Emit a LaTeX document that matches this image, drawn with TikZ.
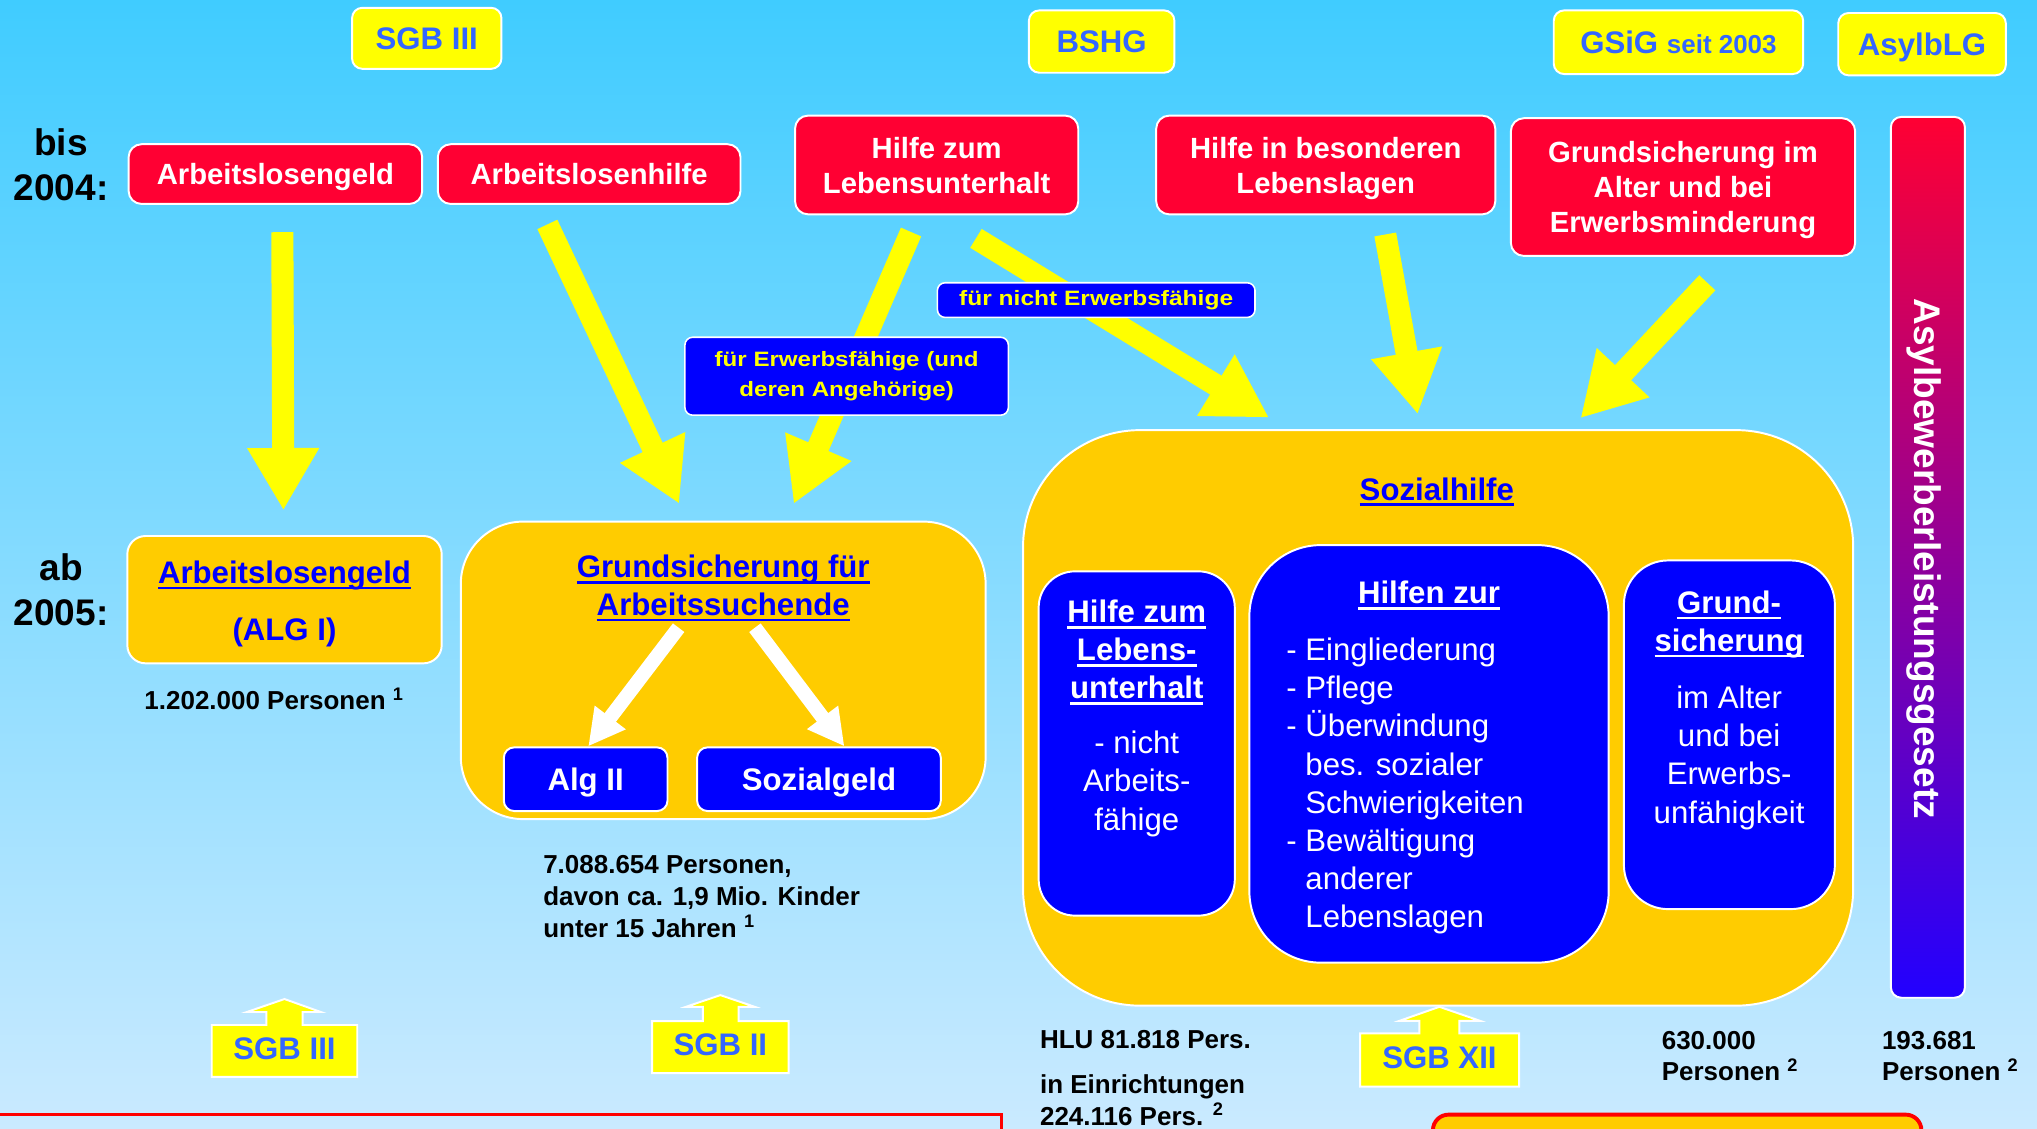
\documentclass[tikz,border=0pt]{standalone}
\usepackage{fontspec}
\setmainfont{Liberation Sans}
\usepackage{graphicx}
\usepackage{xcolor}
\usetikzlibrary{arrows.meta}

\definecolor{skytop}{HTML}{40CCFF}
\definecolor{skybottom}{HTML}{CAEAFF}
\definecolor{oldred}{HTML}{FF0033}
\definecolor{lawyellow}{HTML}{FFFF00}
\definecolor{lawblue}{HTML}{3366FF}
\definecolor{neworange}{HTML}{FFCC00}
\definecolor{subblue}{HTML}{0000FF}
\definecolor{barblue}{HTML}{2200FF}
\definecolor{framered}{HTML}{FF0000}

\newsavebox{\ulsave}
\newcommand{\ulbox}[1]{\sbox{\ulsave}{#1}\rlap{\rule[-4.5pt]{\wd\ulsave}{2pt}}\usebox{\ulsave}}
\newcommand{\ind}{\hphantom{- }}

\tikzset{
	every node/.style={inner sep=0pt},
	lawbox/.style={draw=white, line width=1.5pt, fill=lawyellow, rounded corners=8pt, text=lawblue, text depth=0pt, font=\bfseries\fontsize{24}{28}\selectfont},
	lawtext/.style={text=lawblue, font=\bfseries\fontsize{24}{28}\selectfont},
	lawcallout/.style={draw=white, line width=1.5pt, fill=lawyellow},
	oldbox/.style={draw=white, line width=1.5pt, fill=oldred, rounded corners=10pt, text=white, text depth=0pt, align=center, font=\bfseries\fontsize{22.5}{27}\selectfont},
	newbox/.style={draw=white, line width=1.5pt, fill=neworange},
	newhead/.style={text=subblue, align=center, anchor=base, font=\bfseries\fontsize{24}{29}\selectfont},
	subbox/.style={draw=white, line width=1.5pt, fill=subblue, text=white, text depth=0pt, font=\bfseries\fontsize{24}{29}\selectfont},
	subhead/.style={text=white, align=center, anchor=base, font=\bfseries\fontsize{24}{29.3}\selectfont},
	subtext/.style={text=white, font=\fontsize{24}{29.4}\selectfont},
	notebox/.style={draw=white, line width=1.2pt, fill=subblue, rounded corners=6pt, text=lawyellow, align=center, font=\bfseries\fontsize{16}{23}\selectfont},
	asylbar/.style={draw=white, line width=1.5pt, rounded corners=8pt, top color=oldred, bottom color=barblue},
	period/.style={align=center, anchor=base, font=\bfseries\fontsize{28.5}{34.5}\selectfont},
	persons/.style={align=left, anchor=base west, font=\bfseries\fontsize{20}{24.5}\selectfont},
	transfer/.style={draw=lawyellow, line width=17pt, -{Triangle[width=52pt,length=48pt]}},
	splitarrow/.style={draw=white, line width=11pt, -{Triangle[width=28pt,length=28pt]}}
}

\begin{document}
\begin{tikzpicture}[x=1pt, y=-1pt]
	\useasboundingbox (0,0) rectangle (1568,869);
	\clip (0,0) rectangle (1568,869);
	\shade[top color=skytop, bottom color=skybottom] (0,0) rectangle (1568,869);

	% laws
	\node[lawbox, minimum width=115pt, minimum height=47pt] (sgbiii) at (328.5,29.5) {SGB III};
	\node[lawbox, minimum width=112pt, minimum height=48pt] (bshg) at (848,32) {BSHG};
	\node[lawbox, minimum width=192pt, minimum height=49pt] (gsig) at (1292,32.5) {GSiG {\fontsize{20}{24}\selectfont seit 2003}};
	\node[lawbox, minimum width=129pt, minimum height=48pt] (asylblg) at (1479.5,34) {AsylbLG};

	\node[period] (bis) at (47,154) {bis\\2004:};
	\node[period] (ab) at (47,481.4) {ab\\2005:};

	% until 2004
	\node[oldbox, minimum width=226pt, minimum height=46pt] (alg) at (212,134) {Arbeitslosengeld};
	\node[oldbox, minimum width=233pt, minimum height=46pt] (alhi) at (453.5,134) {Arbeitslosenhilfe};
	\node[oldbox, minimum width=218pt, minimum height=76pt] (hlu) at (721,127) {Hilfe zum\\Lebensunterhalt};
	\node[oldbox, minimum width=261pt, minimum height=76pt] (hbl) at (1020.5,127) {Hilfe in besonderen\\Lebenslagen};
	\node[oldbox, minimum width=265pt, minimum height=106pt] (gsi) at (1295.5,144) {Grundsicherung im\\Alter und bei\\Erwerbsminderung};

	\node[asylbar, minimum width=57pt, minimum height=678pt] (asylbar) at (1484,429) {};
	\node[rotate=-90, text=white, font=\bfseries\fontsize{28.5}{30}\selectfont] (asyl) at (1481,430) {Asylbewerberleistungsgesetz};

	% from 2005
	\node[newbox, rounded corners=14pt, minimum width=242pt, minimum height=98pt] (algI) at (219,461.6) {};
	\node[newhead, font=\bfseries\fontsize{24}{43.7}\selectfont] (algItext) at (219,492.7) {\ulbox{Arbeitslosengeld}\\(ALG I)};

	\node[newbox, rounded corners=48pt, minimum width=404pt, minimum height=229pt] (gsa) at (556.7,516) {};
	\node[newhead] (gsatitle) at (556.7,473.7) {\ulbox{Grundsicherung für}\\\ulbox{Arbeitssuchende}};
	\node[subbox, rounded corners=8pt, minimum width=126pt, minimum height=49pt] (algii) at (450.8,599.8) {Alg II};
	\node[subbox, rounded corners=8pt, minimum width=187.6pt, minimum height=49pt] (sozg) at (630.4,599.8) {Sozialgeld};

	\node[newbox, rounded corners=90pt, minimum width=639pt, minimum height=443pt] (soz) at (1107,552.6) {};
	\node[newhead] (soztitle) at (1106,385) {\ulbox{Sozialhilfe}};
	\node[subbox, rounded corners=28pt, minimum width=151pt, minimum height=265pt] (hlub) at (875,572.3) {};
	\node[subhead] (hlutitle) at (875,538) {\ulbox{Hilfe zum}\\\ulbox{Lebens-}\\\ulbox{unterhalt}};
	\node[subtext, align=center, anchor=base] (hlutext) at (875,639) {- nicht\\Arbeits-\\fähige};
	\node[subbox, rounded corners=55pt, minimum width=276.6pt, minimum height=321.4pt] (hzb) at (1100,580.3) {};
	\node[subhead] (hztitle) at (1100,464.7) {\ulbox{Hilfen zur}};
	\node[subtext, align=left, anchor=base west] (hztext) at (990,714.2) {- Eingliederung\\- Pflege\\- Überwindung\\\ind bes. sozialer\\\ind Schwierigkeiten\\- Bewältigung\\\ind anderer\\\ind Lebenslagen};
	\node[subbox, rounded corners=34pt, minimum width=162.4pt, minimum height=268.4pt] (gsb) at (1331.2,565.6) {};
	\node[subhead] (gsbtitle) at (1331,501.5) {\ulbox{Grund-}\\\ulbox{sicherung}};
	\node[subtext, align=center, anchor=base] (gsbtext) at (1331,633.6) {im Alter\\und bei\\Erwerbs-\\unfähigkeit};

	% numbers
	\node[persons] (alginum) at (111,546.5) {1.202.000 Personen \textsuperscript{1}};
	\node[persons] (algiinum) at (418,721.5) {7.088.654 Personen,\\davon ca. 1,9 Mio. Kinder\\unter 15 Jahren \textsuperscript{1}};
	\node[persons] (hlunum) at (800.4,807.2) {HLU 81.818 Pers.};
	\node[persons] (einrnum) at (800.4,866) {in Einrichtungen\\224.116 Pers. \textsuperscript{2}};
	\node[persons] (gsnum) at (1279,832) {630.000\\Personen \textsuperscript{2}};
	\node[persons] (asylnum) at (1448.5,832) {193.681\\Personen \textsuperscript{2}};

	% new laws below
	\draw[lawcallout] (163,789) -- (205,789) -- (205,779) -- (190,779) -- (219,769) -- (247,779) -- (233,779) -- (233,789) -- (275,789) -- (275,829) -- (163,829) -- cycle;
	\node[lawtext] (sgbiiinew) at (219,807.5) {SGB III};
	\draw[lawcallout] (502,786) -- (541,786) -- (541,775) -- (528,775) -- (554.5,766) -- (581,775) -- (568.5,775) -- (568.5,786) -- (607,786) -- (607,826) -- (502,826) -- cycle;
	\node[lawtext] (sgbii) at (554.5,804) {SGB II};
	\draw[lawcallout] (1047,795.5) -- (1092.6,795.5) -- (1092.6,785.8) -- (1077.2,785.8) -- (1108,775) -- (1139.3,785.8) -- (1123.4,785.8) -- (1123.4,795.5) -- (1169.4,795.5) -- (1169.4,836.5) -- (1047,836.5) -- cycle;
	\node[lawtext] (sgbxii) at (1108,814.5) {SGB XII};

	\draw[framered, line width=2pt] (-10,858) rectangle (771,900);
	\draw[draw=framered, line width=3pt, fill=neworange, rounded corners=12pt] (1103,858) rectangle (1479,900);

	% transitions
	\draw[transfer, shorten <=21pt, shorten >=19pt] ([xshift=119pt]alg.south west) -- ([xshift=121pt]algI.north west);
	\draw[transfer, shorten <=16.6pt, shorten >=14.3pt] ([xshift=78pt]alhi.south west) -- ([xshift=175pt]gsa.north west);
	\draw[transfer, shorten <=14pt, shorten >=14pt] ([xshift=95.6pt]hlu.south west) -- ([xshift=251.4pt]gsa.north west);
	\draw[transfer, shorten <=34pt, shorten >=17pt] ([xshift=111pt]hlu.south west) -- ([xshift=204.6pt]soz.north west);
	\draw[transfer, shorten <=15pt, shorten >=11.7pt] ([xshift=174.4pt]hbl.south west) -- ([xshift=306.6pt]soz.north west);
	\draw[transfer, shorten <=27.3pt, shorten >=11.6pt] ([xshift=170.6pt]gsi.south west) -- ([xshift=421.9pt]soz.north west);
	\draw[splitarrow, shorten <=6pt] ([xshift=-30.7pt]gsatitle.south) -- ([xshift=2pt]algii.north);
	\draw[splitarrow, shorten <=6pt] ([xshift=20.8pt]gsatitle.south) -- ([xshift=19.6pt]sozg.north);

	\node[notebox, minimum width=244.5pt, minimum height=26.7pt] (nichterw) at (843.8,231) {\scalebox{1.18}[1]{für nicht Erwerbsfähige}};
	\node[notebox, minimum width=249pt, minimum height=60pt] (erw) at (651.7,289.6) {\scalebox{1.16}[1]{für Erwerbsfähige (und}\\\scalebox{1.16}[1]{deren Angehörige)}};
\end{tikzpicture}
\end{document}
